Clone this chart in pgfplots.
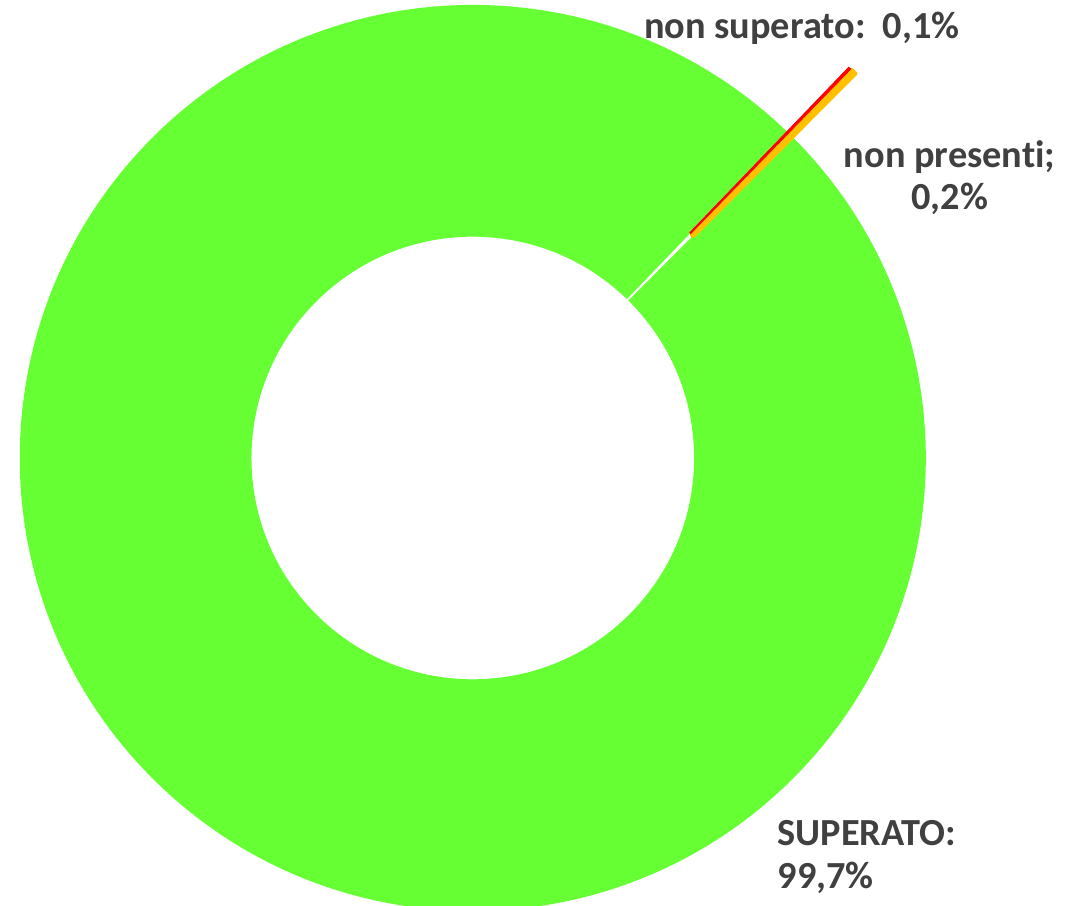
\documentclass[border=0pt]{standalone}
\usepackage{pgfplots}
\pgfplotsset{compat=1.18}
\usepackage{pgfplotstable}
\usepackage{fontspec}
\setmainfont{Carlito}[Ligatures=NoCommon]

\definecolor{verde}{HTML}{66FF33}
\definecolor{arancio}{HTML}{FFC000}
\definecolor{rosso}{HTML}{FF0000}
\definecolor{testo}{HTML}{404040}

% esiti (percentuali), in senso antiorario dall'angolo iniziale
\pgfplotstableread[col sep=comma]{
name,value,explode
non presenti,0.2,0.2
non superato,0.1,0.2
SUPERATO,99.7,0
}\esiti

\def\unitlen{4.52cm}
\def\Ro{1}
\def\Ri{0.492}

% settore di corona circolare: a1, a2, dx, dy, stile
\newcommand\sector[5]{%
  \path[#5] (axis cs:{#3+\Ro*cos(#1)},{#4+\Ro*sin(#1)})
    arc[start angle=#1, end angle=#2, radius=\Ro*\unitlen]
    -- (axis cs:{#3+\Ri*cos(#2)},{#4+\Ri*sin(#2)})
    arc[start angle=#2, end angle=#1, radius=\Ri*\unitlen] -- cycle;}

\begin{document}
\begin{tikzpicture}
\useasboundingbox (0,0) rectangle (10.84cm,9.05cm);

\pgfplotstablegetelem{0}{value}\of\esiti \let\vA\pgfplotsretval
\pgfplotstablegetelem{1}{value}\of\esiti \let\vB\pgfplotsretval
\pgfplotstablegetelem{2}{value}\of\esiti \let\vC\pgfplotsretval
\pgfplotstablegetelem{0}{explode}\of\esiti \let\eA\pgfplotsretval
\pgfplotstablegetelem{1}{explode}\of\esiti \let\eB\pgfplotsretval
\pgfplotstablegetelem{2}{explode}\of\esiti \let\eC\pgfplotsretval

\pgfmathsetmacro\aO{45.06}
\pgfmathsetmacro\aA{\aO+3.6*\vA}
\pgfmathsetmacro\aB{\aA+3.6*\vB}
\pgfmathsetmacro\aC{\aB+3.6*\vC}
\pgfmathsetmacro\dxA{\eA*cos((\aO+\aA)/2)}
\pgfmathsetmacro\dyA{\eA*sin((\aO+\aA)/2)}
\pgfmathsetmacro\dxB{\eB*cos((\aA+\aB)/2)}
\pgfmathsetmacro\dyB{\eB*sin((\aA+\aB)/2)}
\pgfmathsetmacro\dxC{\eC*cos((\aB+\aC)/2)}
\pgfmathsetmacro\dyC{\eC*sin((\aB+\aC)/2)}

\begin{axis}[
  at={(0,0)}, anchor=south west,
  x=\unitlen, y=\unitlen,
  xmin=-1.046, xmax=1.352,
  ymin=-0.989, ymax=1.013,
  hide axis,
]
\addplot[draw=none] coordinates {(0,0)};
\sector{\aB}{\aC}{\dxC}{\dyC}{fill=verde, draw=verde, line width=0.6pt}
\sector{\aO}{\aA}{\dxA}{\dyA}{fill=arancio, draw=arancio, line width=1.1pt, line join=round}
\sector{\aA}{\aB}{\dxB}{\dyB}{fill=rosso, draw=rosso, line width=0.2pt}

\node[text=testo, font=\fontsize{10.9}{12}\selectfont\bfseries, anchor=center]
  at (axis cs:0.728,0.951) {non superato:\ \ 0,1\%};
\node[text=testo, font=\fontsize{10.9}{12}\selectfont\bfseries, align=center, anchor=center]
  at (axis cs:1.055,0.621) {non presenti;\\0,2\%};
\node[text=testo, font=\fontsize{10.9}{12}\selectfont\bfseries, align=left, anchor=west]
  at (axis cs:0.647,-0.883) {SUPERATO:\\99,7\%};
\end{axis}
\end{tikzpicture}
\end{document}
